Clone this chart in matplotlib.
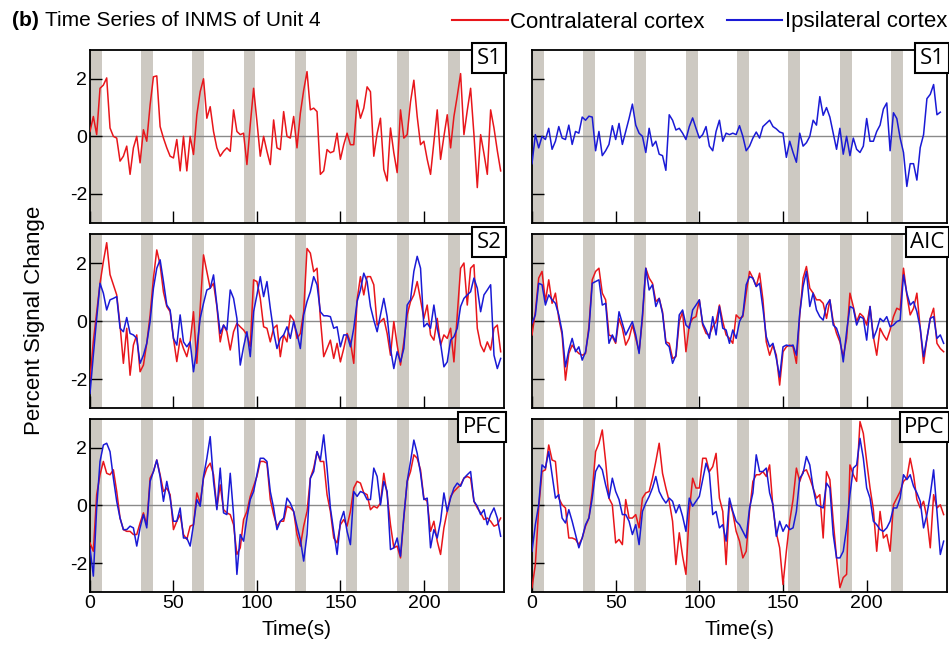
import numpy as np
import matplotlib
matplotlib.use("Agg")
import matplotlib.pyplot as plt
from matplotlib.lines import Line2D

plt.rcParams['font.family'] = ['Liberation Sans', 'DejaVu Sans']
plt.rcParams['axes.unicode_minus'] = False

# sampling times (s), one volume every 2 s
t = np.arange(0, 248, 2)

# stimulation blocks (start, s) and their length
block_starts = [0, 30.5, 61.2, 92, 122.6, 153.2, 184, 214.6]
block_len = 7

# S1 (contralateral only on the left, ipsilateral only on the right)
s1_contra = [0.17, 0.69, 0.06, 1.67, 1.78, 2.03, 0.29, 0.0, -0.06, -0.86, -0.69, -0.34, -1.32, -0.4, 0.0,
             -0.92, 0.23, -0.17, 1.09, 2.07, 2.1, 0.34, -0.06, -0.4, -0.69, -0.75, -0.11, -1.2, 0.0, -1.2,
             0.0, -0.63, 0.75, 1.55, 2.0, 0.63, 1.03, 0.17, -0.4, -0.69, -0.52, -0.4, -0.52, 0.92, 0.17,
             0.06, 0.11, -0.98, 0.4, 1.67, 0.52, -0.69, 0.0, -0.52, -0.98, 0.57, -0.4, -0.46, 0.86, 0.0,
             -0.06, 0.69, -0.4, 0.8, 1.6, 2.25, 0.92, 0.98, 0.86, -1.32, -1.2, -0.46, -0.57, -0.52, 0.11,
             -0.8, -0.29, 0.11, -0.29, -0.29, 1.26, 0.63, 0.98, 1.72, 1.55, -0.69, 0.1, 0.63, -1.15, -1.55,
             0.29, -0.57, -1.26, 0.92, -0.06, 0.06, 1.2, 1.95, 0.69, -0.29, -0.17, -0.8, -1.32, -0.2, 0.92,
             -0.8, 0.0, 0.75, -0.4, 0.69, 1.4, 2.18, 0.06, 0.9, 1.67, 0.06, -1.78, 0.06, -0.6, -1.32,
             0.92, 0.29, -0.5, -1.2]
s1_ipsi = [-0.95, 0.06, -0.4, 0.0, -0.11, 0.28, -0.45, -0.17, 0.34, -0.06, -0.11, 0.39, -0.28, 0.17, 0.11,
           0.67, 0.56, 0.7, 0.67, -0.5, 0.17, -0.67, -0.5, -0.28, 0.37, -0.11, 0.45, -0.28, 0.17, 0.62,
           1.12, 0.39, 0.11, 0.0, -0.56, 0.28, -0.34, -0.17, -0.62, -0.67, -1.18, 0.75, 0.56, 0.22, 0.28,
           0.11, -0.11, 0.34, 0.64, 0.28, -0.06, 0.06, 0.34, -0.34, -0.5, 0.17, 0.56, -0.17, 0.11, 0.06,
           0.11, 0.06, 0.37, 0.0, -0.5, -0.34, -0.06, 0.15, -0.06, 0.34, 0.45, 0.56, 0.34, 0.26, 0.15,
           0.11, -0.73, -0.17, -0.56, -0.9, 0.11, -0.34, -0.22, 0.0, 0.56, 0.39, 1.38, 0.73, 1.0, 0.67,
           0.11, -0.45, 0.28, -0.62, 0.0, -0.67, -0.06, -0.45, -0.56, -0.34, 0.62, -0.17, -0.17, 0.17, 0.39,
           0.95, 1.16, -0.5, 0.82, 0.62, -0.06, -0.56, -1.74, -0.95, -0.95, -1.52, -0.39, 0.06, 1.31, 1.46,
           1.8, 0.75, 0.84]

s2_contra = [-2.0, -0.7, 0.3, 1.3, 2.05, 2.7, 1.6, 1.25, 0.9, -0.14, -1.46, -0.25, -1.87, -0.83, -0.48,
             -1.75, -1.52, -0.77, 0.2, 1.48, 2.45, 1.94, 1.0, 0.5, 0.32, -0.6, -1.4, -0.6, -0.95, -1.23,
             -0.72, 0.32, -1.46, 0.44, 2.28, 1.7, 1.13, 1.3, 0.5, -0.72, -0.14, -0.37, -1.0, -0.37, -0.08,
             -0.2, -0.31, -0.48, -0.89, 1.42, 1.36, 0.78, -0.2, -0.25, -0.72, -0.25, -0.14, -1.23, -0.48, -0.72,
             0.2, 0.03, -0.6, -0.43, 0.32, 2.5, 2.34, 1.7, 1.82, 0.09, -1.23, -0.95, -0.66, -1.29, -0.77,
             -1.41, -0.95, -0.43, -0.72, -1.46, 0.73, 1.53, 0.9, 1.53, 1.53, 1.25, -0.14, -0.02, 0.09, -0.43,
             -1.18, -0.02, -0.83, -1.52, -0.72, 0.21, 0.67, 0.9, 1.36, 0.73, 0.09, 0.55, -0.48, -0.66, 0.09,
             -0.83, -0.48, -0.6, -0.25, -1.41, 0.21, 1.82, 2.0, 0.55, 1.82, 1.94, -0.25, -0.83, -1.06, -0.72,
             -1.0, -0.25, -0.14, -1.06]
s2_ipsi = [-2.5, -1.18, 0.09, 1.3, 0.96, 0.38, 0.73, 0.78, 0.84, -0.25, -0.37, 0.12, -0.43, -0.48, -0.6,
           -1.46, -1.18, -0.77, -0.02, 1.13, 1.82, 2.11, 1.36, 0.55, 0.38, -0.6, -0.83, 0.21, -0.72, -0.89,
           -0.72, -1.75, -0.95, 0.09, 0.61, 1.07, 1.13, 1.59, 0.55, -0.43, -0.14, -0.31, 1.07, 0.78, 0.09,
           -1.52, -0.89, -0.37, -1.23, 0.32, 0.9, 1.53, 0.84, 1.36, 0.44, -0.37, -0.95, -0.6, -0.48, -0.2,
           -0.6, -0.02, -0.43, -0.95, 0.21, 0.67, 1.01, 1.53, 1.25, 0.32, 0.18, 0.18, 0.15, -0.25, -0.2,
           -0.89, -0.48, -0.48, -0.89, -0.25, 0.67, 1.07, 1.65, 1.36, 0.5, 0.03, -0.37, 0.21, 0.78, 0.15,
           -0.95, -1.64, -1.06, -1.41, -0.95, 0.55, 0.73, 1.71, 2.23, 1.82, -0.2, -0.08, -0.25, 0.55, -0.25,
           -0.77, -1.58, -1.41, -0.66, -0.54, -0.25, 0.5, 0.78, 0.9, 1.01, 1.48, 1.13, 0.32, 0.9, 1.07,
           1.25, -1.18, -1.64, -1.29]

aic_contra = [-0.48, 0.32, 1.48, 1.71, 0.67, 1.42, 0.61, 0.96, 0.09, -0.48, -2.04, -1.12, -0.83, -1.0, -1.12,
              -1.18, -1.12, -0.2, 1.42, 1.71, 1.82, 0.96, 0.73, -0.48, -0.54, -0.77, 0.09, -0.25, -0.83, -0.6,
              -0.14, -0.6, -1.06, 0.09, 1.82, 1.48, 1.3, 0.67, 0.78, 0.32, -0.72, -0.77, -1.29, -1.23, -0.02,
              0.32, -1.06, -0.14, 0.09, 0.15, 0.73, -0.14, -0.43, -0.48, -0.2, -0.02, 0.55, -0.02, -0.48, -0.6,
              -0.77, 0.21, 0.09, 0.15, 0.96, 1.71, 1.48, 1.19, 1.65, 0.73, -0.72, -1.18, -0.83, -1.18, -2.21,
              -1.06, -0.89, -0.83, -0.89, -1.46, 0.21, 1.48, 1.88, 1.13, 0.96, 0.73, 0.73, 0.61, 0.09, 0.73,
              -0.02, -0.43, -0.72, -1.23, -0.6, 0.96, 0.5, -0.02, 0.26, 0.15, -0.14, 0.5, -0.54, -1.18, -0.25,
              -0.48, -0.66, -0.31, 0.15, 0.44, 0.38, 1.82, 0.9, 0.21, 0.44, 0.96, -0.25, -1.46, -0.6, 0.09,
              0.44, -0.77, -0.95, -1.06]
aic_ipsi = [-0.08, 0.21, 1.3, 1.25, 0.55, 0.9, 0.73, 0.61, 0.21, -0.37, -1.58, -1.0, -0.6, -1.06, -0.89,
            -1.35, -1.06, -0.31, 1.3, 1.36, 1.42, 0.55, 0.61, -0.77, -0.48, -0.72, 0.32, -0.08, -0.48, -0.25,
            -0.02, -0.48, -1.12, 0.21, 1.82, 1.07, 1.25, 0.5, 0.78, 0.26, -0.77, -0.89, -1.46, -1.18, 0.21,
            0.38, -0.14, -0.25, 0.38, 0.55, 0.73, -0.08, -0.31, -0.6, 0.15, -0.48, 0.5, -0.25, -0.31, -0.77,
            -0.31, -0.6, -0.02, 0.21, 1.25, 1.53, 1.48, 1.19, 1.3, 0.44, -0.54, -0.89, -0.77, -1.29, -1.93,
            -0.89, -0.83, -0.86, -0.83, -1.18, 0.26, 1.19, 1.71, 0.5, 0.96, 0.38, 0.15, 0.03, 0.55, 0.73,
            -0.14, -0.25, -0.6, -1.41, -0.37, 0.5, 0.44, -0.14, 0.15, 0.09, -0.66, 0.5, -0.6, -0.31, 0.09,
            -0.02, 0.15, -0.2, -0.14, -0.02, 0.03, 1.59, 0.96, 0.55, 0.67, 0.32, -0.25, -1.23, -0.6, 0.09,
            0.15, -0.6, -0.48, -0.77]

pfc_contra = [-1.3, -1.59, 0.37, 1.06, 1.52, 1.11, 1.06, 1.23, 0.48, -0.44, -0.84, -0.9, -0.9, -1.01, -1.01,
              -0.61, -0.26, -0.67, 0.94, 1.17, 1.57, 1.06, 0.48, 0.6, 0.37, -0.84, -0.55, -0.32, -1.01, -1.18,
              -0.72, -0.67, 0.43, 0.08, 0.94, 1.29, 1.46, 1.06, -0.09, 0.71, -0.15, -0.26, -0.32, -0.67, -1.7,
              -1.47, -0.49, -0.21, 0.31, 0.66, 1.0, 1.52, 1.52, 1.46, 0.2, -0.32, -0.72, -0.55, -0.55, -0.03,
              -0.09, -0.21, -1.01, -1.41, -0.72, -0.21, 0.94, 1.29, 1.86, 1.52, 1.52, 0.37, -0.21, -1.13, -1.3,
              -0.67, -0.49, -0.72, -0.21, 0.6, 0.83, 0.77, 0.43, 0.37, -0.15, -0.03, -0.09, 0.08, 1.11, 0.37,
              -0.67, -1.47, -1.41, -1.82, -0.44, 0.83, 1.17, 1.75, 1.63, 1.23, 0.25, 0.14, -0.9, -0.55, -1.24,
              -1.7, -0.78, -0.21, 0.31, 0.48, 0.6, 0.71, 0.94, 1.0, 0.94, 0.14, -0.09, -0.26, -0.49, -0.44,
              -0.55, -0.72, -0.67, -0.44]
pfc_ipsi = [-1.47, -2.45, -0.09, 1.52, 2.09, 2.15, 1.86, 0.94, 0.14, -0.44, -0.84, -0.84, -0.72, -0.78, -1.41,
            -0.78, -0.32, -0.78, 0.83, 1.17, 1.57, 1.0, 0.14, 0.83, 0.25, -0.55, -0.55, -0.09, -1.13, -1.13,
            -1.41, -0.67, 0.2, -0.03, 1.0, 1.63, 2.38, 0.83, -0.15, 1.29, -0.26, -0.32, 1.11, -0.32, -2.39,
            -1.01, -1.24, -0.44, 0.2, 0.48, 1.06, 1.63, 1.63, 1.52, 0.48, -0.09, -0.84, -0.55, -0.44, 0.25,
            0.08, -0.21, -0.72, -1.18, -1.93, -1.01, 0.94, 1.17, 1.86, 1.57, 2.44, 1.29, -0.09, -0.9, -1.7,
            -0.55, -0.21, -0.9, -1.36, 0.48, 0.31, 0.48, 0.43, 0.2, 0.2, 1.29, 1.0, 0.02, 0.83, 0.48,
            -1.53, -1.47, -1.13, -1.76, -0.38, 0.83, 1.52, 2.26, 1.8, 1.11, 0.2, 0.25, -1.47, -0.84, -1.13,
            -0.55, 0.43, -0.21, 0.25, 0.6, 0.77, 0.66, 0.94, 1.06, 1.17, 0.14, -0.03, -0.32, -0.15, -0.67,
            -0.32, -0.09, -0.44, -1.07]

ppc_contra = [-2.85, -2.05, -0.09, 1.17, 1.23, 2.09, 1.57, 1.52, 0.25, 0.02, -0.09, -1.13, -1.13, -1.18, -1.36,
              -1.13, -0.72, -0.44, 0.48, 1.86, 2.15, 2.61, 1.52, 0.25, 0.02, -1.3, -1.18, -1.36, 0.2, -0.44,
              -0.44, -0.32, -0.78, 0.25, 0.43, 0.48, 0.94, 1.52, 2.15, 1.11, 0.6, 0.14, -0.55, -2.05, -0.95,
              -1.76, -2.39, -0.21, 0.94, 0.6, 0.6, 1.63, 1.63, 1.17, 1.34, 1.8, 0.25, -0.21, -2.05, 0.14,
              -0.26, -0.9, -1.24, -1.82, -1.59, -0.21, 0.83, 1.06, 1.06, 1.17, 1.0, 1.4, -0.09, -0.95, -1.47,
              -2.74, -1.59, -0.55, 0.2, 1.29, 0.83, 1.17, 1.23, 0.94, 0.6, 0.25, 0.37, -1.13, 1.17, 0.89,
              -0.55, -1.82, -2.85, -2.5, -2.39, 1.4, 1.06, 0.83, 2.9, 2.49, 1.52, 0.6, -0.15, -1.59, -0.21,
              -1.13, -1.01, -1.59, 0.02, 0.25, 0.48, 0.83, 0.94, 1.63, 1.06, 0.2, -0.09, 0.14, -0.44, -1.47,
              0.37, -0.09, 0.02, -0.32]
ppc_ipsi = [-1.59, -0.67, 0.02, 1.4, 1.29, 1.86, 1.06, 0.25, 0.37, -0.44, -0.61, -0.15, -0.55, -1.01, -1.47,
            -1.13, -0.67, -0.44, 0.25, 1.17, 1.4, 1.23, 0.71, 0.25, 0.94, 0.48, 0.2, -0.32, -0.32, -0.55,
            -1.01, -0.67, -1.36, -0.21, 0.08, 0.31, 0.6, 1.0, 0.48, 0.25, 0.08, 0.25, 0.14, -0.26, 0.02,
            -0.38, -0.9, 0.25, -0.03, 0.14, 0.31, 0.89, 1.46, 1.11, -0.32, -0.21, -0.78, -0.67, -1.24, 0.25,
            -0.21, -0.55, -0.67, -0.9, -1.13, -0.09, 0.43, 1.75, 1.17, 1.17, 1.29, 0.43, 0.02, -1.07, -0.55,
            -0.9, -0.67, -0.84, -0.78, -0.21, 0.94, 1.11, 1.69, 1.4, 0.6, 0.02, -0.03, -0.09, 0.77, 0.6,
            -1.01, -1.82, -1.82, -1.59, -0.78, 0.37, 1.29, 1.4, 2.32, 1.63, 0.6, 0.25, -0.55, -0.67, -0.84,
            -0.9, -0.78, -0.55, -0.09, -0.09, 0.25, 1.06, 0.89, 1.06, 0.66, 0.43, 0.14, -0.78, -0.32, 0.37,
            1.23, -0.21, -1.7, -1.24]

panels = [
    ('S1', s1_contra, None),
    ('S1', None, s1_ipsi),
    ('S2', s2_contra, s2_ipsi),
    ('AIC', aic_contra, aic_ipsi),
    ('PFC', pfc_contra, pfc_ipsi),
    ('PPC', ppc_contra, ppc_ipsi),
]

RED = '#e8161b'
BLUE = '#1a1ad6'
W, H = 949, 645

fig = plt.figure(figsize=(9.49, 6.45), dpi=100)

col_x = [(90, 504), (532, 947)]
row_y = [(50, 222.7), (234, 408), (418.7, 592)]

for i, (name, contra, ipsi) in enumerate(panels):
    r, c = divmod(i, 2)
    x0, x1 = col_x[c]
    y0, y1 = row_y[r]
    ax = fig.add_axes([x0 / W, 1 - y1 / H, (x1 - x0) / W, (y1 - y0) / H])
    for s in block_starts:
        ax.axvspan(s, s + block_len, color='#cdc9c2', lw=0, zorder=0)
    ax.axhline(0, color='#8a8a8a', lw=1.0, zorder=1)
    if contra is not None:
        ax.plot(t[:len(contra)], contra, color=RED, lw=1.1, zorder=3)
    if ipsi is not None:
        ax.plot(t[:len(ipsi)], ipsi, color=BLUE, lw=1.1, zorder=4)
    ax.set_xlim(0, 248)
    ax.set_ylim(-3, 3)
    ax.set_xticks([0, 50, 100, 150, 200])
    ax.set_yticks([-2, 0, 2])
    ax.tick_params(direction='in', length=8.5, width=1, labelsize=14, pad=2)
    if r < 2:
        ax.set_xticklabels([])
    else:
        ax.set_xlabel('Time(s)', fontsize=15, labelpad=6)
    if c == 1:
        ax.set_yticklabels([])
    for sp in ax.spines.values():
        sp.set_linewidth(1.3)
    ax.text(0.994, 1.012, name, transform=ax.transAxes, ha='right', va='top',
            fontsize=16, family=['Open Sans', 'DejaVu Sans'], zorder=10,
            bbox=dict(boxstyle='square,pad=0.2', fc='white', ec='black', lw=1.5))

fig.text(35 / W, 1 - 320 / H, 'Percent Signal Change', rotation=90,
         ha='center', va='center', fontsize=16)

fig.text(12 / W, 1 - 21 / H, '(b)', fontsize=15, fontweight='bold', ha='left', va='center')
fig.text(45 / W, 1 - 21 / H, 'Time Series of INMS of Unit 4', fontsize=15, ha='left', va='center')

handles = [Line2D([], [], color=RED, lw=1.5), Line2D([], [], color=BLUE, lw=1.5)]
fig.legend(handles, ['Contralateral cortex', 'Ipsilateral cortex'], loc='center right',
           bbox_to_anchor=(947 / W, 1 - 22 / H), ncol=2, frameon=False, fontsize=16,
           handlelength=2.5, handletextpad=0.1, columnspacing=1.0, borderaxespad=0, borderpad=0)

fig.savefig('out.png', dpi=100)
